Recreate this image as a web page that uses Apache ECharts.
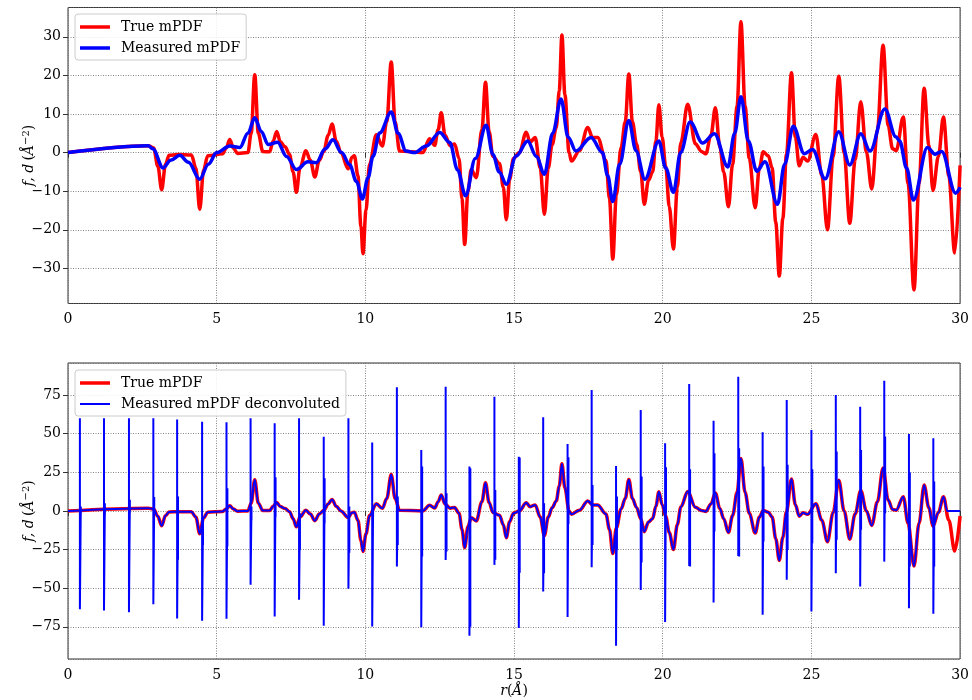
<!DOCTYPE html>
<html>
<head>
<meta charset="utf-8">
<script src="https://cdn.jsdelivr.net/npm/echarts@6/dist/echarts.min.js"></script>
<style>
  html, body { margin: 0; padding: 0; background: #fff; }
  #chart { width: 972px; height: 700px; }
</style>
</head>
<body>
<div id="chart"></div>
<script>
// true mPDF (r in angstrom, f)
const trueR = [0, 2.70, 2.88, 3.02, 3.15, 3.28, 3.40, 3.70, 4.15, 4.30, 4.43, 4.56, 4.70, 5.20, 5.32, 5.44, 5.56, 5.70,
  6.05, 6.16, 6.28, 6.40, 6.55, 6.78, 6.90, 7.02, 7.14, 7.30, 7.45, 7.57, 7.68, 7.80, 8.00, 8.15, 8.30, 8.45, 8.60,
  8.75, 8.88, 9.02, 9.18, 9.42, 9.55, 9.63, 9.75, 9.85, 9.92, 10.02, 10.14, 10.37, 10.57, 10.72, 10.87, 11.00, 11.15,
  11.93, 12.16, 12.33, 12.45, 12.55, 12.68, 12.85, 13.00, 13.15, 13.25, 13.34, 13.45, 13.56, 13.73, 13.92, 14.04,
  14.16, 14.29, 14.51, 14.64, 14.74, 14.85, 14.98, 15.18, 15.41, 15.54, 15.71, 15.88, 16.02, 16.15, 16.28, 16.42,
  16.52, 16.61, 16.71, 16.85, 16.93, 17.20, 17.48, 17.64, 17.81, 18.09, 18.21, 18.32, 18.44, 18.60, 18.74, 18.86,
  18.98, 19.12, 19.26, 19.38, 19.52, 19.66, 19.77, 19.87, 19.98, 20.10, 20.22, 20.36, 20.49, 20.61, 20.84, 21.10,
  21.30, 21.45, 21.62, 21.77, 21.92, 22.05, 22.21, 22.35, 22.50, 22.63, 22.77, 22.91, 23.11, 23.25, 23.38, 23.55,
  23.68, 23.80, 23.92, 24.04, 24.16, 24.33, 24.46, 24.59, 24.72, 24.87, 25.15, 25.35, 25.54, 25.73, 25.92, 26.10,
  26.29, 26.47, 26.66, 26.85, 27.03, 27.22, 27.41, 27.58, 27.73, 27.85, 28.09, 28.25, 28.45, 28.62, 28.79, 28.95,
  29.09, 29.27, 29.44, 29.62, 29.82, 30.0];
const trueF = [0, 1.8, 1.2, -3.5, -9.6, -3.0, -0.7, -0.5, -0.6, -4.0, -14.7, -4.5, -0.8, -0.3, 1.2, 3.4, 1.2, -0.2,
  0, 5.0, 20.2, 5.0, 0.3, 0.2, 3.0, 5.5, 2.8, 1.5, -0.5, -5.0, -10.3, -4.0, 0.5, -2.0, -6.3, -2.0, 0.3,
  4.5, 7.4, 3.0, 0, -4.2, -1.2, -0.8, -6.0, -19.0, -26.2, -15, -3.0, 4.6, 1.7, 8.0, 23.5, 8.0, 0.4,
  0, 3.6, 1.9, 6.0, 10.3, 4.5, 1.8, 2.2, -1.5, -12, -23.8, -10, -4.4, -6.5, 6.0, 18.2,
  5.5, -1.0, -2.8, -9.0, -17.4, -7.0, -1.5, 0, 5.3, 2.7, 3.9, -4.0, -16.0, -4.0, 2.0, 6.5,
  16, 30.5, 15, 0, -2.2, 0.5, 6.5, 3.9, 3.9, -2.0, -12, -27.6, -11, 1.3, 8.0, 20.4,
  8.0, 2.2, -5, -13.4, -7.2, -5.0, 3, 12.4, 4, -3.5, -14, -25, -9, 2.6, 12.5, 2.3,
  0.3, -0.3, 4.5, 11.6, 1.5, -5, -14.0, -3, 12, 33.9, 12, -1.5, -14.3, -4, 0.2, -0.8,
  -4, -18, -32.0, -17, -0.5, 20.7, 4, -3.4, -1.2, -2.2, 4.7, -6, -20.0, -1, 19.8, 0,
  -18.3, -2, 13.2, 0, -9.4, 6, 27.8, 7, 1.0, 0.5, 9.2, -8, -35.6, -8, 16.7, 2,
  -9.8, -1, 9.2, -6, -26.0, -3.3];

// measured mPDF (top panel)
const measR = [0, 2.70, 2.85, 3.20, 3.45, 3.76, 4.05, 4.43, 4.72, 5.00, 5.44, 5.78, 6.05, 6.28, 6.50, 6.73, 7.05,
  7.35, 7.68, 8.07, 8.35, 8.65, 8.91, 9.20, 9.47, 9.70, 9.90, 10.09, 10.26, 10.48, 10.87, 11.10, 11.37, 11.65,
  12.05, 12.50, 12.84, 13.10, 13.37, 13.70, 14.06, 14.29, 14.50, 14.74, 15.07, 15.46, 15.75, 16.02, 16.30,
  16.58, 16.82, 17.08, 17.59, 17.97, 18.15, 18.32, 18.55, 18.86, 19.10, 19.40, 19.87, 20.10, 20.36, 20.60,
  20.92, 21.34, 21.74, 22.19, 22.42, 22.63, 22.88, 23.16, 23.44, 23.86, 24.10, 24.39, 24.76, 25.04, 25.46,
  25.92, 26.29, 26.66, 26.97, 27.47, 27.84, 27.97, 28.20, 28.43, 28.90, 29.16, 29.38, 29.85, 30.0];
const measD = [0, 1.8, 1.0, -4.0, -2.0, -0.7, -2.5, -6.9, -3.0, 0, 1.7, 1.3, 5.0, 9.0, 5.5, 2.1, 2.7,
  -1.0, -4.4, -2.4, -2.6, 1.0, 3.3, 0, -3.1, -7.5, -12.0, -6.5, -0.9, 5.1, 10.5, 5.0, 0.4, 0,
  1.7, 5.2, 2.6, -4.5, -11.2, -1.5, 7.1, -0.5, -5, -8.2, -0.9, 3.0, -1, -5.6, 5,
  13.9, 4, 0.4, 3.9, 0, -6, -12.7, -3, 8.3, 0.5, -6.9, 3.0, -4, -10.3, 0,
  7.9, 2.5, 4.9, -3.7, 5, 14.5, 3, -4.8, -2.4, -13.4, -3, 6.8, -0.3, 0.8, -6.8,
  5.4, -3.2, 4.9, 0.4, 11.3, 4.1, 3.0, -4, -12.3, 1.3, -0.4, 0.3, -10.5, -9.0];

// deconvoluted spikes (bottom panel): main spike and a short echo beside it
const spikeR = [0.40, 1.21, 2.05, 2.87, 3.67, 4.51, 5.33, 6.14, 6.95, 7.77, 8.60, 9.43, 10.23, 11.06, 11.88, 12.70,
  13.50, 14.34, 15.16, 15.98, 16.80, 17.61, 18.43, 19.26, 20.08, 20.89, 21.71, 22.54, 23.36, 24.17, 25.00,
  25.82, 26.64, 27.45, 28.28, 29.10];
const spikeTop = [60, 60, 60, 60, 59.2, 57.7, 57.3, 60, 56.7, 60, 48, 60, 44.2, 80, 39.4, 80.4,
  28.7, 73.9, 35.1, 60.6, 43.3, 78.2, 29.1, 65.3, 43.8, 82.1, 58.4, 86.8, 50.9, 71.8, 52.4,
  75, 67.4, 84.2, 49.8, 47];
const spikeBot = [-63.6, -64.4, -65.5, -60.3, -69.6, -71.1, -69.8, -47.8, -68.3, -57.5, -74.3, -50.4, -74.8, -36, -75.2, -31.7,
  -80.8, -34.9, -75.8, -52.1, -68.7, -36.4, -87.3, -51.1, -71.9, -35.6, -59.3, -29.1, -67.2, -44.6, -65.1,
  -40.3, -48.9, -32.8, -62.9, -66.6];
const echoTop = [2.8, 5, 7.3, 9, 9.3, -3.7, 14.7, 2.8, 21.8, -1.5, 21.2, 2.8, 2.8, 9.3, 28.7, 11.4,
  27.6, 13.6, 34.6, 4.9, 34.7, 16.8, 9.3, 22.3, 28.2, 26.9, 37.3, 40.5, 28.7, 29.8, 26.9,
  38.4, 39.4, 48.1, 24.8, 19];
const echoBot = [-2.6, -2.6, -1.5, 0.6, -31.6, -22, -23, -6, -3.7, -25.2, -8, -27, -3.7, -22, -29.5, -26.3,
  -75, -31.6, -40, -40.3, -8.4, -22, -25.2, -33.4, -1.5, -36, -13.3, -29.5, -19.8, -25.2, -20.9,
  -18.7, -12.2, -1.5, -36, -36];
const echoShift = 0.03;

// the deconvoluted curve stops following the true one here and stays at zero
const decCut = 29.57;
const decTailR = [29.57, 30];
const decTailD = [0, 0];

const font = 'DejaVu Serif';
const RED = '#ff0000';
const BLUE = '#0000ff';
const thickIcon = 'path://M0 0H30V3.5H0Z';
const thinIcon = 'path://M0 0H30V2H0Z';

function pairs(xs, ys) {
  return xs.map((x, i) => [x, ys[i]]);
}

let decData = pairs(trueR, trueF).filter(p => p[0] < decCut).concat(pairs(decTailR, decTailD));

let spikeData = [];
spikeR.forEach((r, i) => {
  spikeData.push([r, spikeTop[i]], [r, spikeBot[i]]);
  spikeData.push([r + echoShift, echoTop[i]], [r + echoShift, echoBot[i]]);
  spikeData.push([r, '-']);
});

function minusFmt(v) {
  return v < 0 ? '\u2212' + Math.abs(v) : String(v);
}

function xAxisFor(idx, withName) {
  let ax = {
    type: 'value', gridIndex: idx, min: 0, max: 30, interval: 5,
    axisLine: { show: false },
    axisTick: { show: true, length: 5, lineStyle: { color: '#333' } },
    axisLabel: { fontFamily: font, fontSize: 14, color: '#000', margin: 9 },
    splitLine: { show: true, lineStyle: { color: '#666', width: 0.8, type: [1, 1.5] } }
  };
  if (withName) {
    ax.name = '{i|r}{n|(}{i|Å}{n|)}';
    ax.nameLocation = 'middle';
    ax.nameGap = 25;
    ax.nameMoveOverlap = false;
    ax.nameTextStyle = {
      rich: {
        i: { fontFamily: font, fontSize: 14, fontStyle: 'italic', color: '#000' },
        n: { fontFamily: font, fontSize: 14, color: '#000' }
      }
    };
  }
  return ax;
}

function yAxisFor(idx, lo, hi, step) {
  return {
    type: 'value', gridIndex: idx, min: lo, max: hi,
    minInterval: step, maxInterval: step,
    axisLine: { show: false },
    axisTick: { show: true, length: 5, lineStyle: { color: '#333' } },
    axisLabel: { fontFamily: font, fontSize: 14, color: '#000', margin: 7,
      showMinLabel: false, showMaxLabel: false, formatter: minusFmt },
    splitLine: { show: true, lineStyle: { color: '#666', width: 0.8, type: [1, 1.5] } },
    name: '{i|f, d} {n|(}{i|Å}{s|\u22122}{n|)}',
    nameLocation: 'middle',
    nameGap: 31,
    nameMoveOverlap: false,
    nameTextStyle: {
      rich: {
        i: { fontFamily: font, fontSize: 14, fontStyle: 'italic', color: '#000' },
        n: { fontFamily: font, fontSize: 14, color: '#000' },
        s: { fontFamily: font, fontSize: 10, color: '#000', verticalAlign: 'top', padding: [0, 0, 6, 0] }
      }
    }
  };
}

function legendAt(top, items) {
  return {
    orient: 'vertical', left: 75, top: top,
    data: items,
    itemWidth: 30, itemHeight: 14, itemGap: 7,
    symbolKeepAspect: true,
    padding: [6, 6, 5, 5],
    backgroundColor: 'rgba(255,255,255,0.85)',
    borderColor: '#cccccc', borderWidth: 1, borderRadius: 3,
    textStyle: { fontFamily: font, fontSize: 14, color: '#000', padding: [0, 0, 0, 6] }
  };
}

let myChart = echarts.init(document.getElementById('chart'), null, { renderer: 'canvas' });

let option = {
  animation: false,
  backgroundColor: '#fff',
  grid: [
    { left: 68, right: 11, top: 7.5, height: 296, show: true, borderColor: '#333', borderWidth: 1 },
    { left: 68, right: 11, top: 363, height: 296, show: true, borderColor: '#333', borderWidth: 1 }
  ],
  legend: [
    legendAt(14, [
      { name: 'True mPDF', icon: thickIcon },
      { name: 'Measured mPDF', icon: thickIcon }
    ]),
    legendAt(370, [
      { name: 'True mPDF', icon: thickIcon },
      { name: 'Measured mPDF deconvoluted', icon: thinIcon }
    ])
  ],
  xAxis: [xAxisFor(0, false), xAxisFor(1, true)],
  yAxis: [yAxisFor(0, -39.1, 37.6, 10), yAxisFor(1, -95.8, 95.7, 25)],
  series: [
    {
      name: 'True mPDF', type: 'line', xAxisIndex: 0, yAxisIndex: 0,
      data: pairs(trueR, trueF), showSymbol: false, symbol: 'none', smooth: 0.35, smoothMonotone: 'x',
      lineStyle: { color: RED, width: 3.5 }, itemStyle: { color: RED }
    },
    {
      name: 'Measured mPDF', type: 'line', xAxisIndex: 0, yAxisIndex: 0,
      data: pairs(measR, measD), showSymbol: false, symbol: 'none', smooth: 0.35, smoothMonotone: 'x',
      lineStyle: { color: BLUE, width: 3.5 }, itemStyle: { color: BLUE }
    },
    {
      name: 'True mPDF', type: 'line', xAxisIndex: 1, yAxisIndex: 1,
      data: pairs(trueR, trueF), showSymbol: false, symbol: 'none', smooth: 0.35, smoothMonotone: 'x',
      lineStyle: { color: RED, width: 3.5 }, itemStyle: { color: RED }
    },
    {
      name: 'Measured mPDF deconvoluted', type: 'line', xAxisIndex: 1, yAxisIndex: 1,
      data: decData, showSymbol: false, symbol: 'none', smooth: 0.35, smoothMonotone: 'x',
      lineStyle: { color: BLUE, width: 2 }, itemStyle: { color: BLUE }
    },
    {
      name: 'Measured mPDF deconvoluted', type: 'line', xAxisIndex: 1, yAxisIndex: 1,
      data: spikeData, showSymbol: false, symbol: 'none', connectNulls: false,
      lineStyle: { color: BLUE, width: 2 }, itemStyle: { color: BLUE }
    }
  ]
};

myChart.setOption(option);
window.addEventListener('resize', myChart.resize);
</script>
</body>
</html>
